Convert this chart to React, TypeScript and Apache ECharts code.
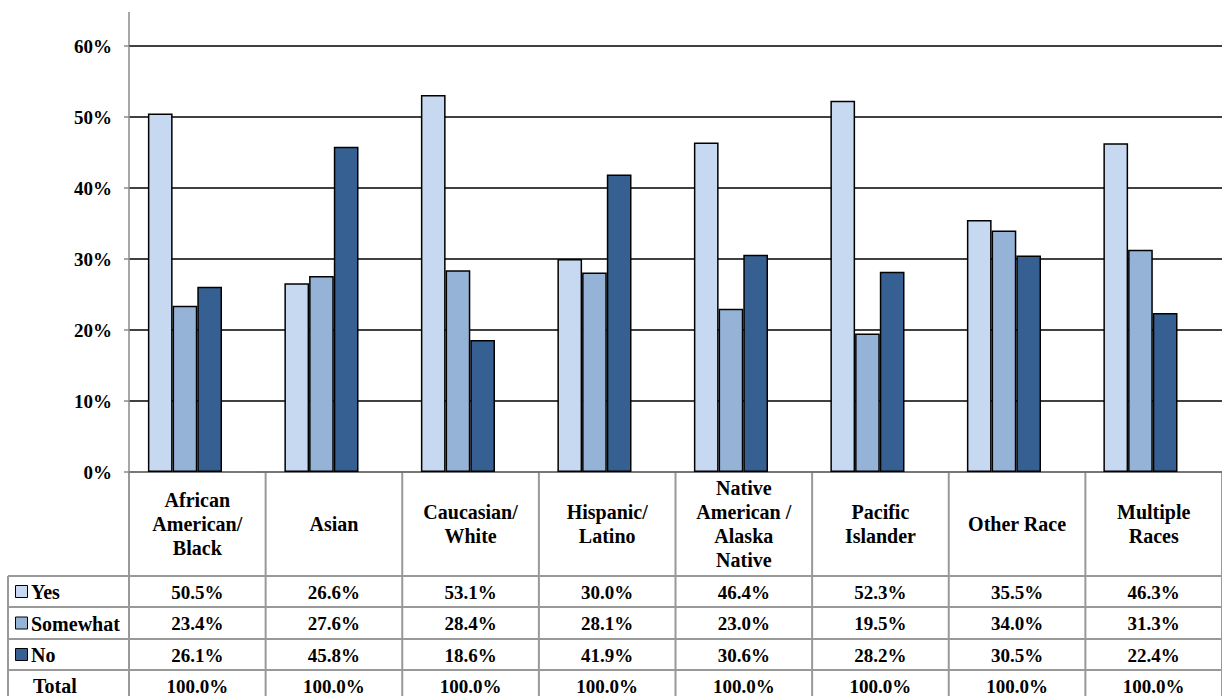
import React, { useEffect, useRef } from "react";
import * as echarts from "echarts";

// Survey answers by race (percent of respondents)
const CATEGORIES = [
  "African\nAmerican/\nBlack",
  "Asian",
  "Caucasian/\nWhite",
  "Hispanic/\nLatino",
  "Native\nAmerican /\nAlaska\nNative",
  "Pacific\nIslander",
  "Other Race",
  "Multiple\nRaces",
];
const SERIES_NAMES = ["Yes", "Somewhat", "No"];
const YES = [50.5, 26.6, 53.1, 30.0, 46.4, 52.3, 35.5, 46.3];
const SOMEWHAT = [23.4, 27.6, 28.4, 28.1, 23.0, 19.5, 34.0, 31.3];
const NO = [26.1, 45.8, 18.6, 41.9, 30.6, 28.2, 30.5, 22.4];
const TOTAL = [100.0, 100.0, 100.0, 100.0, 100.0, 100.0, 100.0, 100.0];
const COLORS = ["#C6D9F1", "#95B3D7", "#366092"];

const W = 1222;
const H = 696;
const FONT = "Liberation Serif";
const NUM_SIZE = 19;
const WORD_SIZE = 20;
const AXIS_X = 129;
const PLOT_TOP = 46;
const ZERO_Y = 472;
const COL_W = (W - AXIS_X) / CATEGORIES.length;
const ROW_LINES = [576, 607, 639, 670];
const ROW_CENTERS = [592, 623.5, 655, 686];
const GRID_GREY = "#999999";
const AXIS_GREY = "#8a8a8a";

function cellText(text: string, x: number, y: number, align: string, size: number) {
  return {
    type: "text",
    x,
    y,
    style: {
      text,
      fontFamily: FONT,
      fontWeight: "bold",
      fontSize: size,
      fill: "#000",
      align,
      verticalAlign: "middle",
    },
  };
}

function buildTable(): any[] {
  const els: any[] = [];
  // horizontal rules of the data table
  ROW_LINES.forEach((y) => {
    els.push({
      type: "line",
      shape: { x1: 8, y1: y, x2: W, y2: y },
      style: { stroke: GRID_GREY, lineWidth: 2 },
    });
  });
  // left border of the legend column
  els.push({
    type: "line",
    shape: { x1: 8, y1: ROW_LINES[0], x2: 8, y2: H },
    style: { stroke: GRID_GREY, lineWidth: 2 },
  });
  // column separators
  for (let i = 0; i <= CATEGORIES.length; i++) {
    const x = AXIS_X + i * COL_W;
    els.push({
      type: "line",
      shape: { x1: x, y1: ZERO_Y, x2: x, y2: H },
      style: { stroke: GRID_GREY, lineWidth: 2 },
    });
  }
  const rows = [YES, SOMEWHAT, NO, TOTAL];
  const rowNames = [...SERIES_NAMES, "Total"];
  rows.forEach((vals, r) => {
    const cy = ROW_CENTERS[r];
    if (r < 3) {
      els.push({
        type: "rect",
        shape: { x: 15.5, y: cy - 6.5, width: 12, height: 12 },
        style: { fill: COLORS[r], stroke: "#000", lineWidth: 1 },
      });
    }
    els.push(cellText(rowNames[r], r < 3 ? 31 : 33, cy, "left", WORD_SIZE));
    vals.forEach((v, i) => {
      els.push(cellText(v.toFixed(1) + "%", AXIS_X + (i + 0.5) * COL_W, cy, "center", NUM_SIZE));
    });
  });
  // vertical axis continues above the top gridline
  els.push({
    type: "line",
    shape: { x1: AXIS_X, y1: 12, x2: AXIS_X, y2: PLOT_TOP },
    style: { stroke: AXIS_GREY, lineWidth: 1.5 },
  });
  return els;
}

export default function App() {
  const ref = useRef<HTMLDivElement>(null);
  useEffect(() => {
    if (!ref.current) return;
    const chart = echarts.init(ref.current, null, { renderer: "svg" });
    const plotH = ZERO_Y - PLOT_TOP;
    const barsLeft = AXIS_X - 12.3;
    const option: any = {
      animation: false,
      backgroundColor: "#ffffff",
      textStyle: { fontFamily: FONT },
      grid: [
        { left: AXIS_X, top: PLOT_TOP, width: W - AXIS_X, height: plotH },
        { left: barsLeft, top: PLOT_TOP, width: 1092, height: plotH },
      ],
      xAxis: [
        {
          gridIndex: 0,
          type: "category",
          data: CATEGORIES,
          axisLine: { lineStyle: { color: AXIS_GREY, width: 1.5 } },
          axisTick: { show: false },
          axisLabel: {
            interval: 0,
            margin: 52,
            verticalAlign: "middle",
            align: "center",
            lineHeight: 24,
            fontFamily: FONT,
            fontWeight: "bold",
            fontSize: WORD_SIZE,
            color: "#000",
          },
        },
        { gridIndex: 1, type: "category", data: CATEGORIES, show: false },
      ],
      yAxis: [
        {
          gridIndex: 0,
          type: "value",
          min: 0,
          max: 60,
          interval: 10,
          axisLine: { show: true, lineStyle: { color: AXIS_GREY, width: 1.5 } },
          axisTick: { show: true, length: 5, lineStyle: { color: AXIS_GREY, width: 1.5 } },
          splitLine: { lineStyle: { color: "#000", width: 1.6 } },
          axisLabel: {
            formatter: "{value}%",
            margin: 17,
            fontFamily: FONT,
            fontWeight: "bold",
            fontSize: NUM_SIZE,
            color: "#000",
          },
        },
        { gridIndex: 1, type: "value", min: 0, max: 60, show: false },
      ],
      series: [YES, SOMEWHAT, NO].map((data, k) => ({
        name: SERIES_NAMES[k],
        type: "bar",
        xAxisIndex: 1,
        yAxisIndex: 1,
        data,
        barWidth: 24.7,
        barGap: "0%",
        itemStyle: { color: COLORS[k], borderColor: "#000", borderWidth: 1.5 },
      })),
      graphic: buildTable(),
    };
    chart.setOption(option);
    return () => chart.dispose();
  }, []);
  return (
    <div
      ref={ref}
      style={{ position: "fixed", left: 0, top: 0, width: W, height: H, background: "#fff" }}
    />
  );
}
